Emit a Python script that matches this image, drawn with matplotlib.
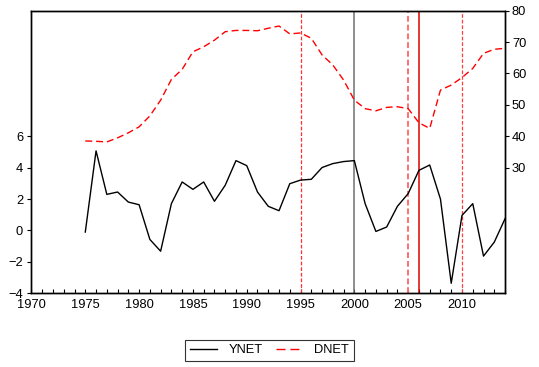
import numpy as np
import matplotlib.pyplot as plt
from matplotlib.lines import Line2D

plt.rcParams['font.family'] = ['Liberation Sans', 'DejaVu Sans']
plt.rcParams['font.size'] = 9.3

years = list(range(1975, 2015))

ynet = [-0.1, 5.07, 2.3, 2.45, 1.81, 1.64, -0.57, -1.32, 1.71, 3.09,
        2.62, 3.09, 1.86, 2.88, 4.45, 4.13, 2.45, 1.54, 1.26, 2.98,
        3.21, 3.26, 4.01, 4.26, 4.39, 4.45, 1.71, -0.06, 0.22, 1.54,
        2.35, 3.83, 4.17, 2.0, -3.36, 0.96, 1.71, -1.63, -0.74, 0.75]

dnet = [38.5, 38.4, 38.2, 39.5, 41.1, 43.0, 46.5, 51.5, 58.1, 61.3,
        66.9, 68.5, 70.6, 73.3, 73.7, 73.7, 73.6, 74.4, 75.1, 72.6,
        72.9, 71.2, 65.9, 62.7, 57.9, 51.5, 48.8, 48.1, 49.2, 49.4,
        48.8, 44.3, 42.5, 54.7, 56.3, 58.7, 61.6, 66.4, 67.7, 68.0]

# reference years marked with vertical lines
vlines = [
    (1995, '#ff3030', (3, 1.5), 0.9),
    (2000, '#707070', None, 1.1),
    (2005, '#ff7070', (3, 1.5), 1.4),
    (2006, '#dd0000', None, 1.1),
    (2010, '#ff4040', (3, 1.5), 0.9),
]

fig = plt.figure(figsize=(5.39, 3.67), dpi=100)
ax = fig.add_axes([0.0584, 0.2008, 0.8786, 0.7702])
ax2 = ax.twinx()

ax.plot(years, ynet, color='black', lw=1.0, zorder=3)
ax2.plot(years, dnet, color='red', lw=1.0, dashes=(5, 2.8), zorder=3)

for yr, col, ds, lw in vlines:
    if ds is None:
        ax.axvline(yr, color=col, lw=lw, zorder=2)
    else:
        ax.axvline(yr, color=col, lw=lw, dashes=ds, zorder=2)

ax.set_xlim(1970, 2014)
ax.set_ylim(-4, 14)
ax2.set_ylim(-10, 80)

ax.set_xticks(range(1970, 2014, 5))
ax.set_xticks(range(1970, 2015), minor=True)
ax.set_yticks([-4, -2, 0, 2, 4, 6])
ax2.set_yticks([30, 40, 50, 60, 70, 80])

ax.tick_params(axis='x', which='both', direction='in', length=3, width=0.8, pad=4)
ax.tick_params(axis='y', direction='out', length=3, width=0.8, pad=3)
ax2.tick_params(axis='y', direction='out', length=3, width=0.8, pad=2)

for a in (ax, ax2):
    for s in a.spines.values():
        s.set_linewidth(1.0)

handles = [Line2D([], [], color='black', lw=1.0),
           Line2D([], [], color='red', lw=1.0, dashes=(6.5, 3.5))]
leg = fig.legend(handles, ['YNET', 'DNET'], loc='center',
                 bbox_to_anchor=(0.5, 0.046), ncol=2, frameon=True,
                 fancybox=False, handlelength=2.1, columnspacing=1.0,
                 handletextpad=0.9, borderpad=0.35)
leg.get_frame().set_edgecolor('black')
leg.get_frame().set_linewidth(0.8)

fig.savefig('out.png', dpi=100)
